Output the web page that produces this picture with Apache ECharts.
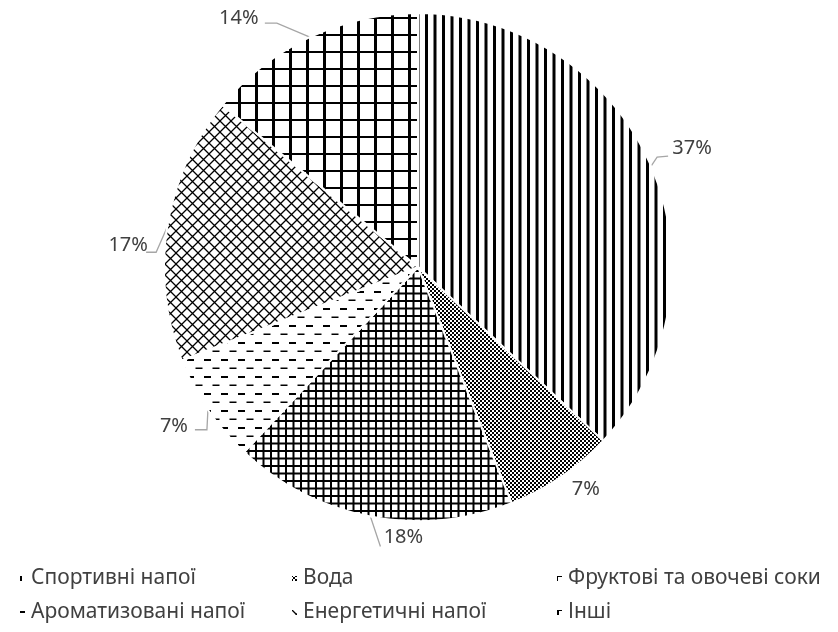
<!DOCTYPE html>
<html>
<head>
<meta charset="utf-8">
<script src="https://cdn.jsdelivr.net/npm/echarts@6/dist/echarts.min.js"></script>
<style>
  html, body { margin: 0; padding: 0; background: #fff; }
  #chart { width: 838px; height: 632px; }
</style>
</head>
<body>
<div id="chart"></div>
<script>
// Market share of beverage categories, %
const categories = [
  'Спортивні напої',
  'Вода',
  'Фруктові та овочеві соки',
  'Ароматизовані напої',
  'Енергетичні напої',
  'Інші'
];
const shares = [37, 7, 18, 7, 17, 14];

// ---- pie geometry ----
const CX = 418, CY = 267, R = 254;
const FONT = 'Noto Sans';
const TEXT_COLOR = '#404040';

// Label placement per slice: label-centre offset from the slice's rim point,
// plus the leader-line path (also relative to the rim point).
const labelSpots = [
  { dx: 41,  dy: -18, line: [[0, 0], [6, -9], [17, -10]] },
  { dx: 25,  dy: 12,  line: null },
  { dx: 33,  dy: 21,  line: [[0, 0], [10, 30]] },
  { dx: -34, dy: 17,  line: [[0, 0], [-1, 20], [-13, 20]] },
  { dx: -39, dy: 18,  line: [[0, 0], [-11, 25], [-21, 25]] },
  { dx: -71, dy: -19, line: [[0, 0], [-33, -14], [-45, -14]] }
];

// ---- monochrome hatch patterns, one per category ----
function makeCanvas(w, h, draw) {
  const c = document.createElement('canvas');
  c.width = w; c.height = h;
  const ctx = c.getContext('2d');
  ctx.fillStyle = '#fff';
  ctx.fillRect(0, 0, w, h);
  ctx.fillStyle = '#000';
  ctx.strokeStyle = '#000';
  draw(ctx, w, h);
  return c;
}

// vertical stripes
const patVertical = makeCanvas(17, 4, (ctx) => {
  ctx.fillRect(0, 0, 3, 4);
  ctx.fillRect(8.5, 0, 3, 4);
});
// fine checkerboard
const patChecker = makeCanvas(4, 4, (ctx) => {
  ctx.fillRect(0, 0, 2, 2);
  ctx.fillRect(2, 2, 2, 2);
});
// dense square grid
const patGridSmall = makeCanvas(15, 15, (ctx) => {
  ctx.fillRect(0, 0, 2, 15);
  ctx.fillRect(7.5, 0, 2, 15);
  ctx.fillRect(0, 0, 15, 2);
  ctx.fillRect(0, 7.5, 15, 2);
});
// staggered horizontal dashes
const patDashes = makeCanvas(17, 17, (ctx) => {
  ctx.fillRect(0, 2, 7, 2);
  ctx.fillRect(8.5, 10.5, 7, 1.5);
});
// diagonal diamond lattice
const patDiamond = makeCanvas(11, 11, (ctx) => {
  ctx.lineWidth = 1.3;
  ctx.beginPath();
  ctx.moveTo(-1, -1); ctx.lineTo(12, 12);
  ctx.moveTo(12, -1); ctx.lineTo(-1, 12);
  ctx.stroke();
});
// wide square grid
const patGridWide = makeCanvas(17, 17, (ctx) => {
  ctx.fillRect(0, 0, 3, 17);
  ctx.fillRect(0, 0, 17, 2);
});

const patterns = [patVertical, patChecker, patGridSmall, patDashes, patDiamond, patGridWide];

const pieData = categories.map((name, i) => ({
  name: name,
  value: shares[i],
  itemStyle: { color: { image: patterns[i], repeat: 'repeat' } }
}));

// rim point at the middle angle of each slice (start at 12 o'clock, clockwise)
const total = shares.reduce((a, b) => a + b, 0);
const rimPoints = [];
let acc = 0;
shares.forEach((v) => {
  const mid = Math.PI / 2 - (acc + v / 2) / total * Math.PI * 2;
  rimPoints.push([CX + R * Math.cos(mid), CY - R * Math.sin(mid)]);
  acc += v;
});

// legend laid out as two rows of three
const legendCols = [13, 285, 550];
const legendRows = [563, 597];
const legends = categories.map((name, i) => ({
  data: [name],
  left: legendCols[i % 3],
  top: legendRows[Math.floor(i / 3)],
  itemWidth: 7,
  itemHeight: 7,
  itemGap: 8,
  icon: 'rect',
  selectedMode: false,
  textStyle: { fontFamily: FONT, fontSize: 21, color: TEXT_COLOR }
}));

const chart = echarts.init(document.getElementById('chart'), null, { renderer: 'canvas' });
chart.setOption({
  animation: false,
  backgroundColor: '#fff',
  legend: legends,
  series: [{
    type: 'pie',
    center: [CX, CY],
    radius: R,
    startAngle: 90,
    clockwise: true,
    avoidLabelOverlap: false,
    data: pieData,
    itemStyle: { borderColor: '#fff', borderWidth: 2 },
    label: {
      show: true,
      formatter: '{c}%',
      fontFamily: FONT,
      fontSize: 20,
      color: TEXT_COLOR
    },
    labelLine: {
      show: true,
      length: 12,
      length2: 10,
      lineStyle: { color: '#a6a6a6', width: 1.3 }
    },
    labelLayout: function (params) {
      const i = params.dataIndex;
      const spot = labelSpots[i];
      const rim = rimPoints[i];
      const r = params.labelRect;
      const cx = r.x + r.width / 2;
      const cy = r.y + r.height / 2;
      const out = {
        dx: rim[0] + spot.dx - cx,
        dy: rim[1] + spot.dy - cy
      };
      if (spot.line) {
        const pts = spot.line.map((p) => [rim[0] + p[0], rim[1] + p[1]]);
        while (pts.length < 3) pts.push(pts[pts.length - 1].slice());
        out.labelLinePoints = pts;
      } else {
        out.labelLinePoints = [rim.slice(), rim.slice(), rim.slice()];
      }
      return out;
    },
    emphasis: { disabled: true }
  }]
});
</script>
</body>
</html>
